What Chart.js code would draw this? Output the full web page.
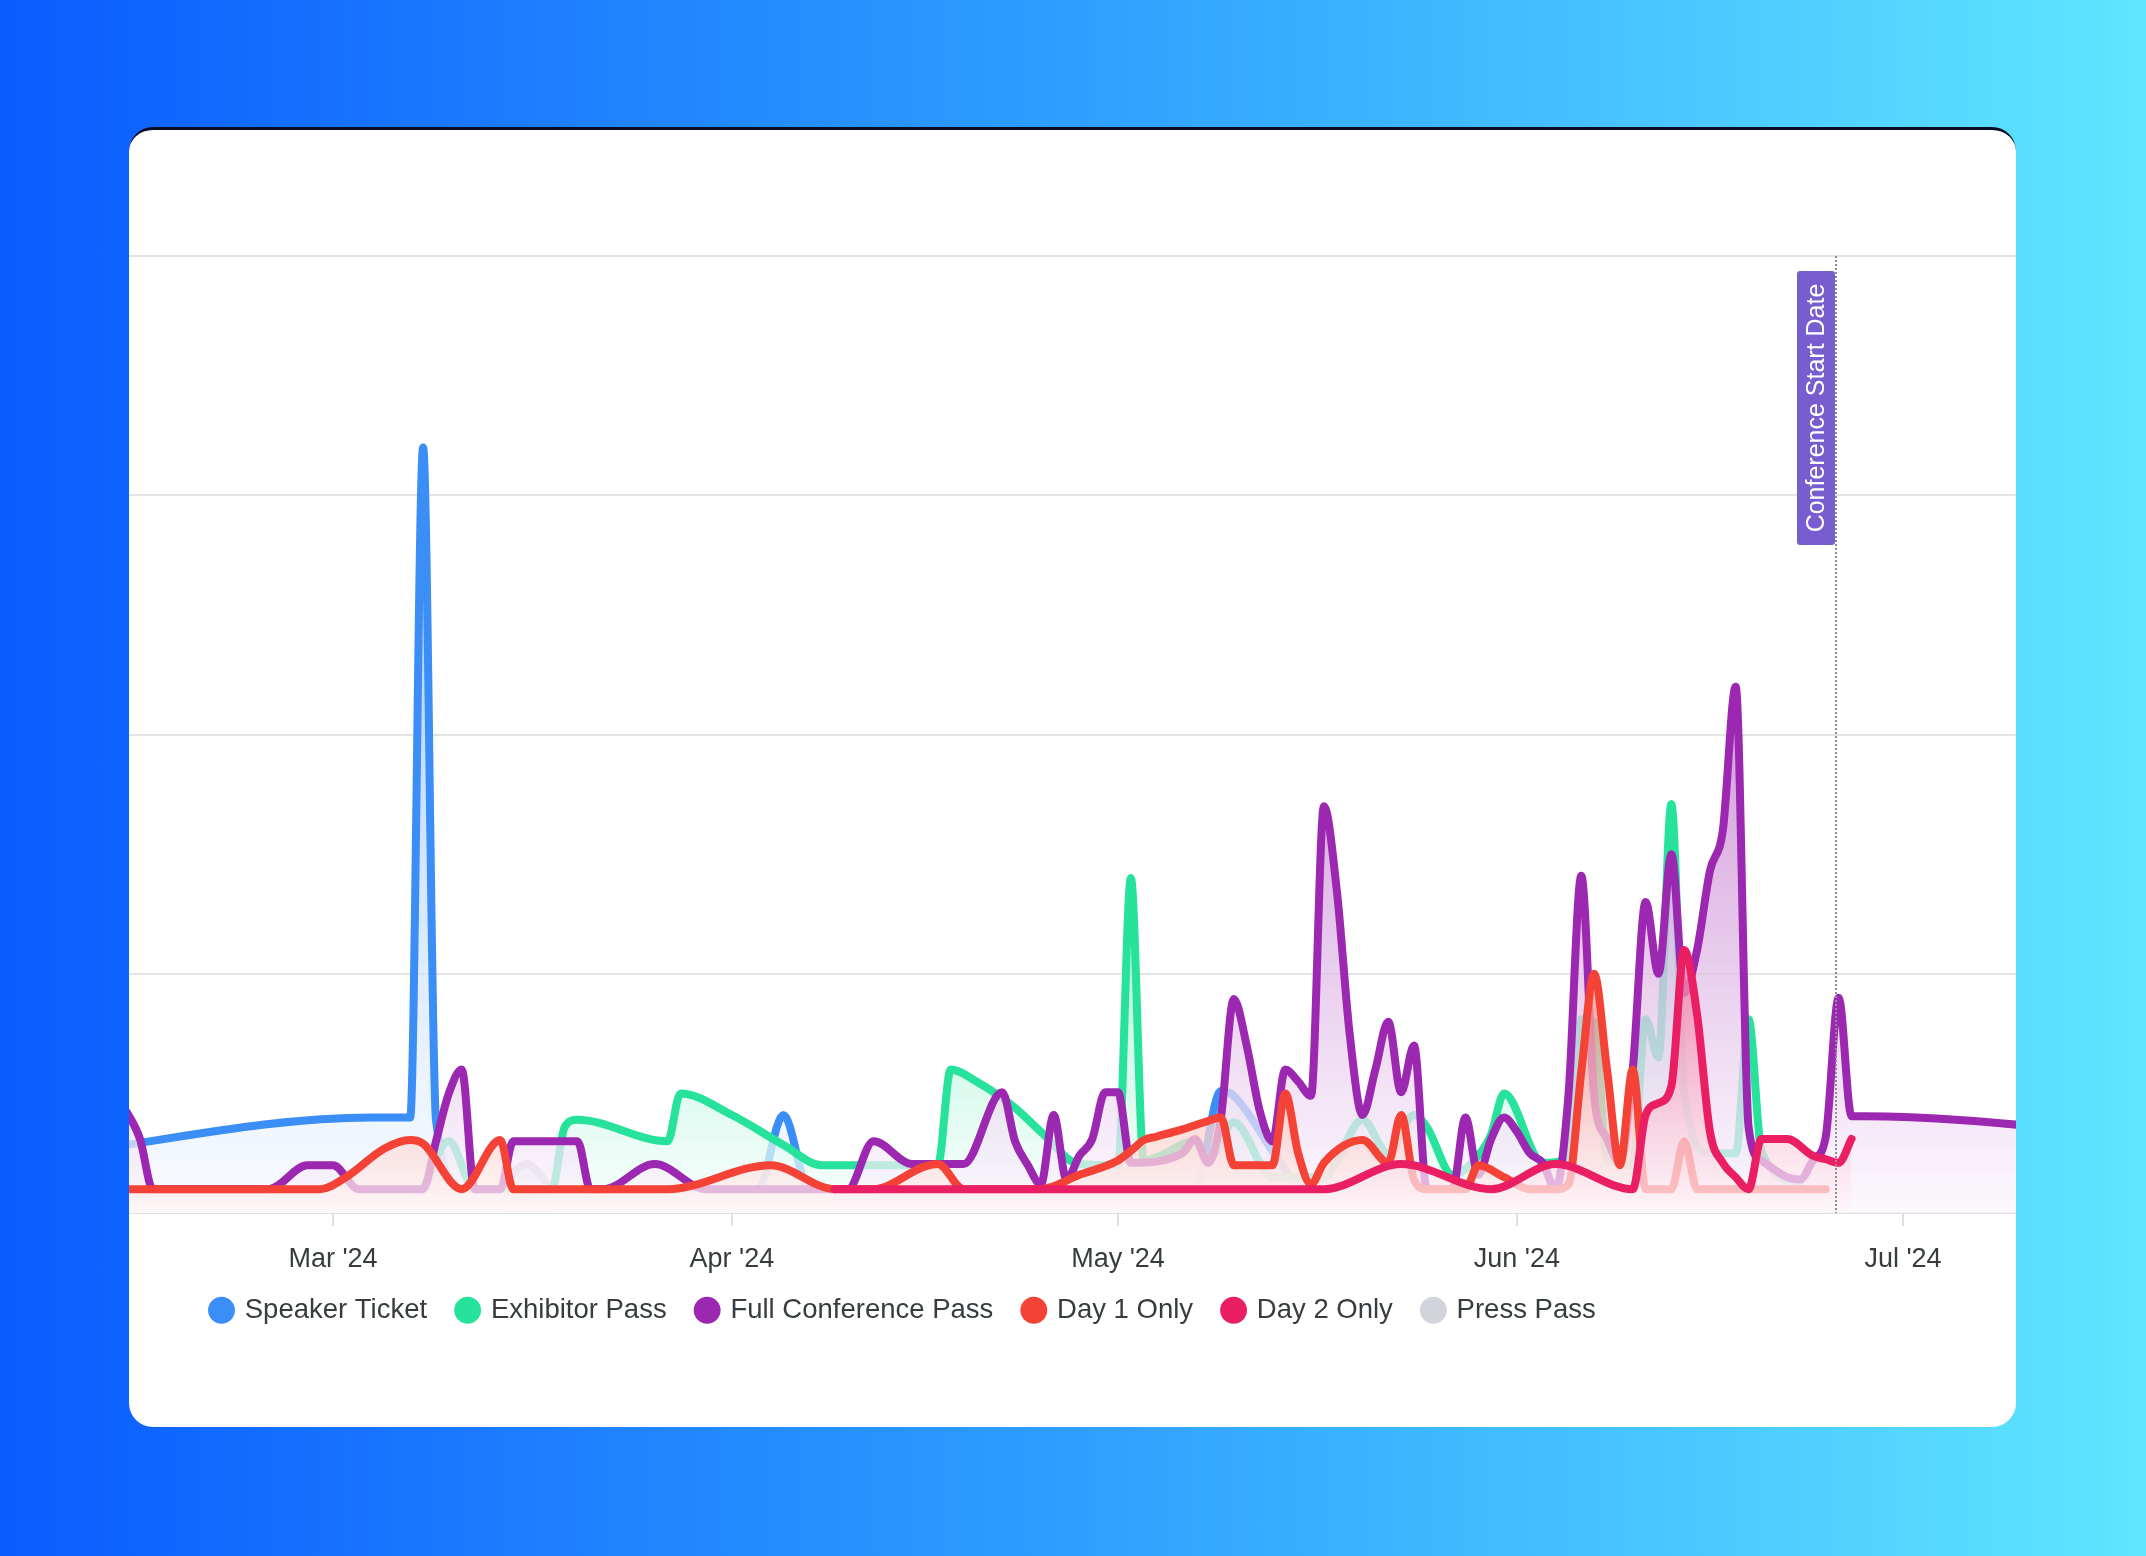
<!DOCTYPE html>
<html>
<head>
<meta charset="utf-8">
<title>Ticket sales</title>
<script src="https://cdn.jsdelivr.net/npm/chart.js@4.4.1/dist/chart.umd.min.js"></script>
<style>
  html, body { margin: 0; padding: 0; }
  body {
    width: 2146px; height: 1556px; position: relative; overflow: hidden;
    background: linear-gradient(90deg, #0a5cff 0%, #2f9fff 50%, #5fe6ff 100%);
    font-family: "Liberation Sans", Arial, sans-serif;
  }
  .card {
    position: absolute; left: 129px; top: 127px; width: 1887px; height: 1300px;
    box-sizing: border-box; background: #fff; border-top: 3px solid #0b0d24;
    border-radius: 24px; overflow: hidden;
  }
  canvas { display: block; }
</style>
</head>
<body>
<div class="card"><canvas id="salesChart" width="1887" height="1297"></canvas></div>
<script>
// daily ticket sales
const seriesNames = ['Speaker Ticket', 'Exhibitor Pass', 'Full Conference Pass', 'Day 1 Only', 'Day 2 Only', 'Press Pass'];
const seriesColors = ['#3b8ef5', '#26e29a', '#9c27b0', '#f44336', '#e91e63', '#d1d5db'];

const speakerDates = ['2024-02-08','2024-03-04','2024-03-07','2024-03-08','2024-03-09','2024-03-11','2024-04-03','2024-04-05','2024-04-07','2024-05-07','2024-05-09','2024-05-10','2024-05-13','2024-05-15'];
const speakerSales = [2.4, 4.0, 4.0, 32, 3.9, 1, 1, 4.1, 1, 1, 5.1, 4.9, 2.6, 1];

const exhibitorDates = ['2024-03-08','2024-03-10','2024-03-12','2024-03-18','2024-03-19','2024-03-20','2024-03-27','2024-03-28','2024-04-01','2024-04-05','2024-04-08','2024-04-17','2024-04-18','2024-04-20','2024-04-23','2024-04-25','2024-04-28','2024-05-01','2024-05-02','2024-05-03','2024-05-07','2024-05-08','2024-05-10','2024-05-13','2024-05-17','2024-05-20','2024-05-22','2024-05-24','2024-05-25','2024-05-27','2024-05-29','2024-05-30','2024-05-31','2024-06-03','2024-06-05','2024-06-06','2024-06-07','2024-06-08','2024-06-10','2024-06-11','2024-06-12','2024-06-13','2024-06-14','2024-06-16','2024-06-18','2024-06-19','2024-06-20','2024-06-23'];
const exhibitorSales = [1, 3.0, 1, 1, 3.6, 3.9, 3.0, 5.0, 4.1, 2.85, 2.0, 2.0, 6.0, 5.5, 4.4, 3.4, 2.05, 2.0, 14.0, 2.2, 3.0, 2.2, 3.8, 1.5, 1.5, 3.9, 2.5, 4.1, 3.6, 1.6, 2.4, 3.3, 5.0, 2.1, 2.3, 8.1, 8.0, 2.3, 2.0, 8.1, 6.5, 17.1, 5.0, 2.5, 2.5, 8.1, 2.6, 1.2];

const fullPassDates = ['2024-02-13','2024-02-14','2024-02-15','2024-02-16','2024-02-25','2024-02-28','2024-03-01','2024-03-03','2024-03-08','2024-03-09','2024-03-10','2024-03-11','2024-03-12','2024-03-14','2024-03-15','2024-03-20','2024-03-21','2024-03-22','2024-03-26','2024-03-30','2024-04-10','2024-04-12','2024-04-15','2024-04-19','2024-04-22','2024-04-23','2024-04-24','2024-04-25','2024-04-26','2024-04-27','2024-04-28','2024-04-29','2024-04-30','2024-05-01','2024-05-02','2024-05-06','2024-05-07','2024-05-08','2024-05-09','2024-05-10','2024-05-11','2024-05-12','2024-05-13','2024-05-14','2024-05-15','2024-05-16','2024-05-17','2024-05-18','2024-05-19','2024-05-20','2024-05-21','2024-05-22','2024-05-23','2024-05-24','2024-05-25','2024-05-27','2024-05-28','2024-05-29','2024-05-30','2024-05-31','2024-06-01','2024-06-02','2024-06-03','2024-06-04','2024-06-05','2024-06-06','2024-06-07','2024-06-08','2024-06-09','2024-06-10','2024-06-11','2024-06-12','2024-06-13','2024-06-14','2024-06-15','2024-06-16','2024-06-17','2024-06-18','2024-06-19','2024-06-20','2024-06-22','2024-06-23','2024-06-24','2024-06-25','2024-06-26','2024-06-27','2024-06-28','2024-07-21'];
const fullPassSales = [5.0, 4.2, 3.1, 1, 1, 2.0, 2.0, 1, 1, 3.0, 5.0, 6.0, 1, 1, 3.0, 3.0, 1, 1, 2.05, 1, 1, 3.0, 2.05, 2.05, 5.05, 3.0, 2.0, 1.2, 4.1, 1.4, 2.4, 3.1, 5.05, 5.05, 2.1, 2.5, 3.1, 2.1, 4.0, 8.95, 7.0, 4.3, 3.0, 6.0, 5.5, 4.9, 17.0, 13.5, 7.5, 4.1, 6.0, 8.0, 5.05, 7.0, 1, 1, 4.0, 1.6, 3.1, 4.0, 3.4, 2.5, 2.1, 1, 4.9, 14.1, 4.9, 3.1, 2.1, 6.0, 13.0, 10.0, 15.0, 9.2, 11.0, 14.3, 16.0, 22.0, 3.6, 2.2, 1.5, 1.4, 2.2, 3.2, 9.0, 4.05, 4.05, 3.15];

const day1Dates = ['2024-02-01','2024-02-29','2024-03-02','2024-03-05','2024-03-07','2024-03-08','2024-03-11','2024-03-14','2024-03-15','2024-03-27','2024-04-04','2024-04-09','2024-04-12','2024-04-16','2024-04-17','2024-04-19','2024-04-25','2024-04-28','2024-05-01','2024-05-02','2024-05-03','2024-05-04','2024-05-06','2024-05-08','2024-05-09','2024-05-10','2024-05-13','2024-05-14','2024-05-15','2024-05-16','2024-05-17','2024-05-20','2024-05-22','2024-05-23','2024-05-24','2024-05-25','2024-05-28','2024-05-29','2024-05-31','2024-06-02','2024-06-04','2024-06-05','2024-06-06','2024-06-07','2024-06-08','2024-06-09','2024-06-10','2024-06-11','2024-06-13','2024-06-14','2024-06-15','2024-06-25'];
const day1Sales = [1, 1, 1.5, 2.7, 3.05, 2.9, 1, 3.05, 1, 1, 2.0, 1, 1, 1.95, 2.05, 1, 1, 1.6, 2.2, 2.6, 3.05, 3.2, 3.5, 3.85, 4.0, 2.0, 2.0, 5.0, 2.5, 1.2, 2.1, 3.05, 2.1, 4.1, 1.4, 1, 1, 2.0, 1.5, 1, 1, 1.2, 5.9, 10.0, 6.0, 2.0, 6.0, 1, 1, 3.0, 1, 1];

const day2Dates = ['2024-04-09','2024-05-17','2024-05-23','2024-05-30','2024-06-04','2024-06-10','2024-06-11','2024-06-12','2024-06-13','2024-06-14','2024-06-15','2024-06-16','2024-06-17','2024-06-18','2024-06-19','2024-06-20','2024-06-22','2024-06-24','2024-06-25','2024-06-26','2024-06-27'];
const day2Sales = [1, 1, 2.05, 1, 2.05, 1, 4.1, 4.6, 5.3, 11.0, 8.3, 3.4, 2.1, 1.5, 1, 3.1, 3.1, 2.4, 2.25, 2.1, 3.1];

const pressDates = ['2024-03-14','2024-03-16','2024-03-18'];
const pressSales = [1, 2.05, 1];

const monthTickDates = ['2024-03-01', '2024-04-01', '2024-05-01', '2024-06-01', '2024-07-01'];
const monthTickLabels = ["Mar '24", "Apr '24", "May '24", "Jun '24", "Jul '24"];

const xStart = '2024-02-14T03:30:00Z';
const xEnd = '2024-07-09T18:45:00Z';
const conferenceStart = '2024-06-25T19:00:00Z';
const conferenceLabel = 'Conference Start Date';

Chart.defaults.font.family = '"Liberation Sans", Arial, sans-serif';
Chart.defaults.color = '#373d3f';

function toPoints(dates, sales){
  return dates.map((d, i) => ({ x: Date.parse(d), y: sales[i] }));
}

function hexToRgb(hex){
  const n = parseInt(hex.slice(1), 16);
  return [(n >> 16) & 255, (n >> 8) & 255, n & 255];
}

// colour k parts of the series colour into white
function tint(rgb, k, alpha){
  const c = rgb.map(v => Math.round(255 - k * (255 - v)));
  return `rgba(${c[0]},${c[1]},${c[2]},${alpha})`;
}

// area fill fades from the series peak down to the axis
function areaFill(context){
  const chart = context.chart;
  const area = chart.chartArea;
  if(!area) return 'transparent';
  const ds = chart.data.datasets[context.datasetIndex];
  const rgb = hexToRgb(ds.borderColor);
  const peak = Math.max(...ds.data.map(p => p.y));
  const top = Math.max(area.top, chart.scales.y.getPixelForValue(peak));
  const g = chart.ctx.createLinearGradient(0, top, 0, area.bottom);
  g.addColorStop(0, tint(rgb, 0.6, 0.8));
  g.addColorStop(1, tint(rgb, 0.04, 0.72));
  return g;
}

const allSeries = [
  [speakerDates, speakerSales],
  [exhibitorDates, exhibitorSales],
  [fullPassDates, fullPassSales],
  [day1Dates, day1Sales],
  [day2Dates, day2Sales],
  [pressDates, pressSales]
];
// bigger order = drawn earlier (further back)
const drawOrder = [6, 5, 4, 3, 2, 7];

const datasets = allSeries.map(([dates, sales], i) => ({
  label: seriesNames[i],
  data: toPoints(dates, sales),
  borderColor: seriesColors[i],
  backgroundColor: areaFill,
  borderWidth: 8,
  borderJoinStyle: 'round',
  borderCapStyle: 'round',
  pointRadius: 0,
  pointHoverRadius: 0,
  cubicInterpolationMode: 'monotone',
  fill: 'origin',
  order: drawOrder[i]
}));

// vertical marker for the conference start
const startMarker = {
  id: 'startMarker',
  afterDatasetsDraw(chart){
    const {ctx, chartArea, scales} = chart;
    const x = Math.round(scales.x.getPixelForValue(Date.parse(conferenceStart)));
    ctx.save();
    ctx.strokeStyle = '#8d8d8d';
    ctx.lineWidth = 2;
    ctx.setLineDash([2, 2]);
    ctx.beginPath();
    ctx.moveTo(x, chartArea.top);
    ctx.lineTo(x, chartArea.bottom);
    ctx.stroke();
    ctx.setLineDash([]);

    const w = 38, h = 274, top = chartArea.top + 15;
    ctx.fillStyle = '#775dd0';
    ctx.beginPath();
    ctx.roundRect(x - w - 1, top, w, h, 3);
    ctx.fill();
    ctx.translate(x - 1 - w / 2, top + h / 2);
    ctx.rotate(-Math.PI / 2);
    ctx.fillStyle = '#ffffff';
    ctx.font = '25px "Liberation Sans", Arial, sans-serif';
    ctx.textAlign = 'center';
    ctx.textBaseline = 'middle';
    ctx.fillText(conferenceLabel, 0, 1);
    ctx.restore();
  }
};

// legend sits a bit in from the card edge and closer to the axis
const legendInset = {
  id: 'legendInset',
  afterLayout(chart){
    chart.legend.left += 52;
    chart.legend.right += 52;
    chart.legend.top -= 27;
    chart.legend.bottom -= 27;
  }
};

new Chart(document.getElementById('salesChart'), {
  type: 'line',
  data: { datasets },
  plugins: [startMarker, legendInset],
  options: {
    responsive: false,
    animation: false,
    layout: { padding: { top: 126, left: 0, right: 0, bottom: 66 } },
    scales: {
      x: {
        type: 'linear',
        min: Date.parse(xStart),
        max: Date.parse(xEnd),
        afterBuildTicks: scale => {
          scale.ticks = monthTickDates.map(d => ({ value: Date.parse(d) }));
        },
        ticks: {
          autoSkip: false,
          maxRotation: 0,
          padding: 17,
          color: '#373d3f',
          font: { size: 27 },
          callback: (value, index) => monthTickLabels[index]
        },
        grid: { drawOnChartArea: false, drawTicks: true, tickLength: 13, color: '#e0e0e0', lineWidth: 2 },
        border: { display: true, color: '#e0e0e0', width: 2 }
      },
      y: {
        min: 0,
        max: 40,
        ticks: { stepSize: 10, display: false },
        grid: { color: '#e3e3e3', lineWidth: 2, drawTicks: false },
        border: { display: false },
        afterFit: scale => { scale.width = 0; }
      }
    },
    plugins: {
      tooltip: { enabled: false },
      legend: {
        position: 'bottom',
        align: 'start',
        labels: {
          usePointStyle: true,
          boxWidth: 19,
          boxHeight: 19,
          padding: 31,
          color: '#373d3f',
          font: { size: 27.5 },
          generateLabels: chart => chart.data.datasets.map((ds, i) => ({
            text: ds.label,
            fillStyle: ds.borderColor,
            strokeStyle: ds.borderColor,
            lineWidth: 0,
            pointStyle: 'circle',
            hidden: !chart.isDatasetVisible(i),
            datasetIndex: i,
            fontColor: '#373d3f'
          }))
        }
      }
    }
  }
});
</script>
</body>
</html>
